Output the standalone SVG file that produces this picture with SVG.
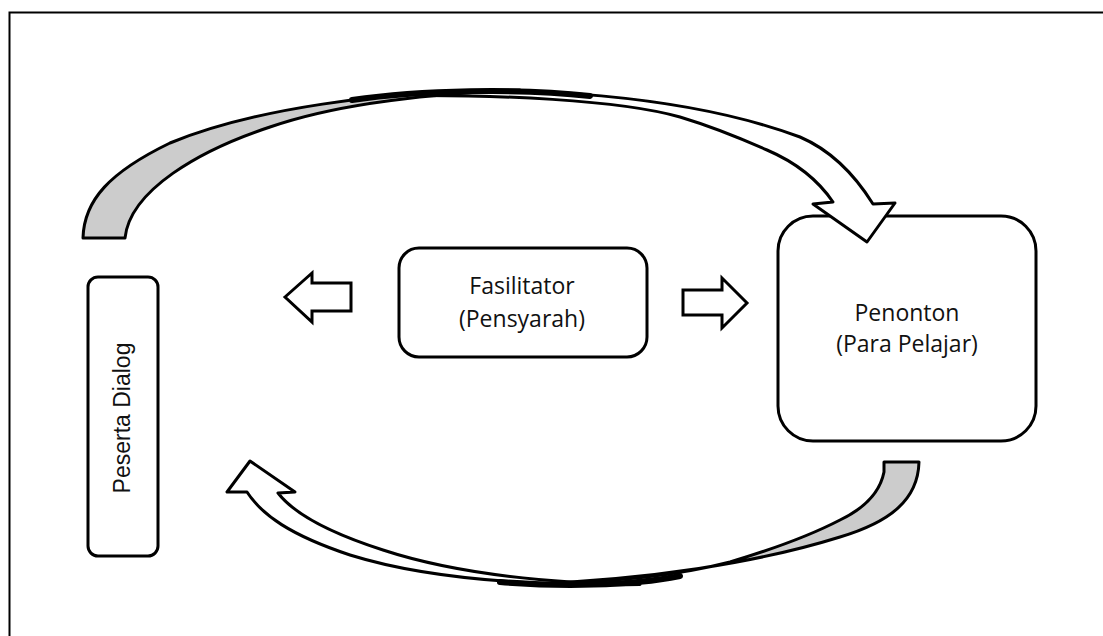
<svg xmlns="http://www.w3.org/2000/svg" width="1103" height="636" viewBox="0 0 1103 636">
<style>
.box{fill:#fff;stroke:#000;stroke-width:3}
.lbl{font-family:"Open Sans","Liberation Sans",sans-serif;font-size:23px;fill:#111;text-anchor:middle}
.lblv{font-family:"Liberation Sans",Arial,sans-serif;font-size:23px;fill:#111;text-anchor:middle}
.arr{fill:#fff;stroke:#000;stroke-width:3;stroke-linejoin:miter}
.curve{fill:#fff;stroke:#000;stroke-width:3;stroke-linejoin:round}
.back{fill:#cccccc;stroke:#000;stroke-width:3;stroke-linejoin:round}
.cross{fill:none;stroke:#000;stroke-width:6;stroke-linecap:round}
.frame{fill:none;stroke:#000;stroke-width:2}
</style>
<rect width="1103" height="636" fill="#fff"/>
<path class="frame" d="M9.5,636 V12.5 H1103"/>
<g id="node-peserta">
<rect class="box" x="88" y="277" width="70" height="279" rx="10"/>
<text class="lblv" transform="translate(130,418) rotate(-90)">Peserta Dialog</text>
</g>
<g id="node-fasilitator">
<rect class="box" x="399" y="248" width="248" height="109" rx="20"/>
<text class="lbl" x="522" y="294">Fasilitator</text>
<text class="lbl" x="522" y="327">(Pensyarah)</text>
</g>
<g id="node-penonton">
<rect class="box" x="778" y="216" width="258" height="225" rx="35"/>
<text class="lbl" x="907" y="321">Penonton</text>
<text class="lbl" x="907" y="352">(Para Pelajar)</text>
</g>
<g id="connectors">
<polygon class="arr" points="285,297 312,273 312,283 351,283 351,311 312,311 312,322"/>
<polygon class="arr" points="683,290 722,290 722,278 747,303 722,328 722,315 683,315"/>
<path class="curve" d="M380,96 C520,82 690,96 800,137 C835,152 858,180 873,204 L895,203 L867,242 L813,204 L833,202 C818,180 795,162 767,150 C740,138 710,126 680,117 C620,100 500,94 380,96 Z"/>
<path class="back" d="M83,238 C84,200 110,172 170,143 C250,110 380,90 520,90 C420,94 330,106 270,127 C200,150 130,190 125,238 Z"/>
<path class="cross" d="M352,100 C420,90 520,88 590,96"/>
<path class="curve" d="M640,584.5 C540,583 450,572 383,550 C330,533 295,515 278,493 L295,492 L250,461 L227,492 L247,492 C262,515 290,535 350,555 C430,580 540,586 640,584.5 Z"/>
<path class="back" d="M884,462 L919,462 C918,500 890,522 840,537 C760,562 650,580 520,584.5 C620,582 680,575 730,562 C780,547 815,533 840,520 C865,508 880,492 884,472 Z"/>
<path class="cross" d="M500,582 C560,587 630,586 680,576"/>
</g>
</svg>
